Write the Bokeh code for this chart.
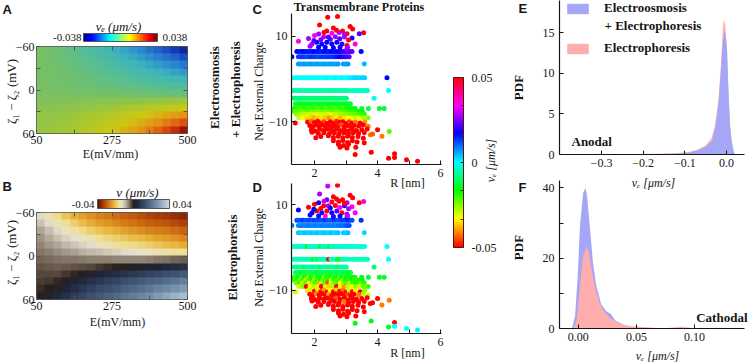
import colorsys
import numpy as np
from bokeh.plotting import figure
from bokeh.layouts import row, column
from bokeh.models import (Range1d, LinearColorMapper, ColorBar, FixedTicker, Label,
                          LinearAxis, Legend, LegendItem, ColumnDataSource, GridBox)
from bokeh.embed import file_html
from bokeh.resources import INLINE

SERIF = "Liberation Serif"
SANS = "Liberation Sans"
INK = "#161616"

# ---------------- Panels A / B : velocity over E (cell centres) and zeta difference ----------------
HEAT_E = [62.5, 87.5, 112.5, 137.5, 162.5, 187.5, 212.5, 237.5, 262.5, 287.5,
          312.5, 337.5, 362.5, 387.5, 412.5, 437.5, 462.5, 487.5]
HEAT_DZ = [-55, -45, -35, -25, -15, -5, 5, 15, 25, 35, 45, 55]
A_VE = [
    [-0.0002, -0.0011, -0.0022, -0.0036, -0.0051, -0.0067, -0.0085, -0.0104, -0.0124, -0.0144, -0.0166, -0.0189, -0.0212, -0.0236, -0.0261, -0.0286, -0.0320, -0.0355],
    [-0.0002, -0.0009, -0.0019, -0.0030, -0.0043, -0.0057, -0.0072, -0.0087, -0.0104, -0.0122, -0.0140, -0.0159, -0.0179, -0.0199, -0.0220, -0.0242, -0.0264, -0.0286],
    [-0.0002, -0.0007, -0.0015, -0.0025, -0.0035, -0.0046, -0.0058, -0.0071, -0.0085, -0.0099, -0.0114, -0.0130, -0.0146, -0.0162, -0.0180, -0.0197, -0.0215, -0.0234],
    [-0.0001, -0.0006, -0.0012, -0.0019, -0.0027, -0.0036, -0.0046, -0.0056, -0.0066, -0.0078, -0.0089, -0.0101, -0.0114, -0.0127, -0.0140, -0.0154, -0.0168, -0.0183],
    [-0.0001, -0.0004, -0.0009, -0.0014, -0.0020, -0.0027, -0.0034, -0.0041, -0.0049, -0.0057, -0.0066, -0.0075, -0.0084, -0.0094, -0.0103, -0.0114, -0.0124, -0.0135],
    [-0.0001, -0.0003, -0.0006, -0.0009, -0.0013, -0.0018, -0.0022, -0.0027, -0.0033, -0.0038, -0.0044, -0.0050, -0.0056, -0.0062, -0.0069, -0.0075, -0.0082, -0.0089],
    [0.0005, 0.0004, 0.0002, 0.0001, -0.0001, -0.0003, -0.0005, -0.0007, -0.0009, -0.0011, -0.0014, -0.0016, -0.0019, -0.0022, -0.0025, -0.0027, -0.0030, -0.0033],
    [0.0012, 0.0012, 0.0013, 0.0013, 0.0014, 0.0015, 0.0017, 0.0018, 0.0020, 0.0022, 0.0024, 0.0026, 0.0029, 0.0031, 0.0034, 0.0037, 0.0040, 0.0043],
    [0.0020, 0.0021, 0.0022, 0.0025, 0.0028, 0.0031, 0.0035, 0.0040, 0.0045, 0.0051, 0.0058, 0.0065, 0.0073, 0.0081, 0.0090, 0.0099, 0.0109, 0.0120],
    [0.0030, 0.0032, 0.0034, 0.0038, 0.0042, 0.0048, 0.0055, 0.0062, 0.0071, 0.0080, 0.0091, 0.0103, 0.0115, 0.0128, 0.0143, 0.0158, 0.0174, 0.0191],
    [0.0033, 0.0035, 0.0039, 0.0044, 0.0050, 0.0058, 0.0068, 0.0079, 0.0091, 0.0104, 0.0119, 0.0135, 0.0153, 0.0172, 0.0192, 0.0214, 0.0236, 0.0260],
    [0.0038, 0.0041, 0.0045, 0.0052, 0.0060, 0.0070, 0.0082, 0.0096, 0.0111, 0.0129, 0.0148, 0.0168, 0.0191, 0.0215, 0.0240, 0.0268, 0.0300, 0.0345],
]
B_V = [
    [-0.0125, -0.0150, -0.0173, -0.0198, -0.0220, -0.0235, -0.0248, -0.0263, -0.0275, -0.0285, -0.0295, -0.0305, -0.0315, -0.0325, -0.0333, -0.0340, -0.0350, -0.0360],
    [-0.0103, -0.0125, -0.0145, -0.0168, -0.0190, -0.0208, -0.0223, -0.0238, -0.0250, -0.0260, -0.0270, -0.0280, -0.0290, -0.0300, -0.0305, -0.0310, -0.0320, -0.0330],
    [-0.0081, -0.0100, -0.0120, -0.0138, -0.0155, -0.0173, -0.0188, -0.0203, -0.0215, -0.0225, -0.0235, -0.0245, -0.0255, -0.0265, -0.0270, -0.0275, -0.0285, -0.0295],
    [-0.0068, -0.0083, -0.0098, -0.0113, -0.0128, -0.0140, -0.0153, -0.0168, -0.0180, -0.0190, -0.0200, -0.0208, -0.0215, -0.0225, -0.0233, -0.0240, -0.0250, -0.0260],
    [-0.0059, -0.0070, -0.0080, -0.0093, -0.0105, -0.0115, -0.0125, -0.0138, -0.0150, -0.0160, -0.0170, -0.0175, -0.0180, -0.0190, -0.0200, -0.0208, -0.0215, -0.0225],
    [-0.0049, -0.0056, -0.0063, -0.0070, -0.0078, -0.0085, -0.0093, -0.0100, -0.0108, -0.0115, -0.0123, -0.0128, -0.0133, -0.0140, -0.0148, -0.0153, -0.0158, -0.0165],
    [-0.0038, -0.0043, -0.0045, -0.0048, -0.0050, -0.0053, -0.0055, -0.0055, -0.0055, -0.0058, -0.0058, -0.0058, -0.0058, -0.0055, -0.0050, -0.0045, -0.0040, -0.0035],
    [-0.0031, -0.0034, -0.0035, -0.0033, -0.0030, -0.0028, -0.0023, -0.0015, -0.0008, -0.0003, 0.0005, 0.0013, 0.0020, 0.0028, 0.0035, 0.0045, 0.0055, 0.0068],
    [-0.0025, -0.0025, -0.0023, -0.0015, -0.0005, 0.0008, 0.0020, 0.0033, 0.0045, 0.0055, 0.0068, 0.0080, 0.0090, 0.0100, 0.0110, 0.0123, 0.0135, 0.0150],
    [-0.0016, -0.0014, -0.0006, 0.0008, 0.0025, 0.0045, 0.0063, 0.0078, 0.0093, 0.0105, 0.0120, 0.0135, 0.0148, 0.0160, 0.0173, 0.0188, 0.0203, 0.0220],
    [-0.0009, 0.0001, 0.0016, 0.0035, 0.0055, 0.0075, 0.0095, 0.0113, 0.0128, 0.0143, 0.0160, 0.0175, 0.0190, 0.0208, 0.0225, 0.0243, 0.0260, 0.0280],
    [0.0003, 0.0023, 0.0045, 0.0065, 0.0085, 0.0105, 0.0125, 0.0145, 0.0163, 0.0180, 0.0200, 0.0218, 0.0235, 0.0255, 0.0275, 0.0298, 0.0320, 0.0340],
]
A_LIM = 0.038
B_LIM = 0.04
HEAT_XTICKS = [50, 275, 500]
HEAT_XMINOR = [162.5, 387.5]
HEAT_YTICKS = [-60, 0, 60]
HEAT_YMINOR = [-30, 30]

# ---------------- Panels C / D : proteins (R, net charge), velocity colour ----------------
BAND_Q = [6.4, 5.2, 3.5, 0.3, -2.7, -4.5, -5.8, -6.9, -7.6, -8.3, -9.1]
BAND_R = [
    [1.44, 1.51, 1.58, 1.65, 1.72, 1.79, 1.86, 1.93, 2.00, 2.07, 2.14, 2.21, 2.28, 2.35,
     2.42, 2.49, 2.56, 2.63, 2.70, 2.77, 2.84, 2.91, 2.98, 3.05, 3.12, 3.19, 3.48],
    [1.28, 1.49, 1.56, 1.63, 1.70, 1.77, 1.84, 1.91, 1.98, 2.05, 2.12, 2.19, 2.26,
     2.33, 2.40, 2.47, 2.54, 2.61, 2.68, 2.75, 2.82, 2.89, 2.96, 3.03, 3.10],
    [1.49, 1.56, 1.63, 1.70, 1.77, 1.84, 1.91, 1.98, 2.05, 2.12, 2.19, 2.26,
     2.33, 2.40, 2.47, 2.54, 2.61, 2.68, 2.75, 2.92, 2.99, 3.06, 3.58],
    [1.28, 1.35, 1.42, 1.49, 1.56, 1.63, 1.70, 1.77, 1.84, 1.91, 1.98, 2.05,
     2.12, 2.19, 2.26, 2.33, 2.40, 2.47, 2.54, 2.61, 2.68, 2.75, 2.82, 2.89,
     2.96, 3.03, 3.10, 3.17, 3.24, 3.31, 3.38, 3.45, 3.52, 3.59, 4.30],
    [1.33, 1.40, 1.47, 1.54, 1.61, 1.68, 1.75, 1.82, 1.89, 1.96, 2.03, 2.10,
     2.17, 2.24, 2.31, 2.38, 2.45, 2.52, 2.59, 2.66, 2.73, 2.80, 2.87, 2.94,
     3.01, 3.08, 3.19, 3.26, 3.33, 3.40, 3.47, 3.54, 3.61, 3.68, 4.35],
    [1.33, 1.40, 1.47, 1.54, 1.61, 1.68, 1.75, 1.82, 1.89, 1.96, 2.03, 2.10,
     2.17, 2.24, 2.31, 2.38, 2.45, 2.52, 2.59, 2.66, 2.73, 2.80, 2.87, 2.94,
     3.01, 3.89],
    [1.39, 1.46, 1.53, 1.60, 1.67, 1.74, 1.81, 1.88, 1.95, 2.02, 2.09, 2.16,
     2.23, 2.30, 2.37, 2.44, 2.51, 2.58, 2.65, 2.72, 2.79, 2.86, 2.93, 3.00,
     3.07, 3.14],
    [1.33, 1.40, 1.47, 1.54, 1.61, 1.68, 1.75, 1.82, 1.89, 1.96, 2.03, 2.10,
     2.17, 2.24, 2.31, 2.38, 2.45, 2.52, 2.59, 2.66, 2.73, 2.80, 2.87, 2.94,
     3.01, 3.08, 3.15, 3.22, 3.29, 3.50, 3.71, 4.06, 4.21],
    [1.36, 1.45, 1.54, 1.63, 1.72, 1.81, 1.90, 1.99, 2.08, 2.17, 2.26, 2.35,
     2.44, 2.53, 2.62, 2.71, 2.80, 2.89, 2.98, 3.07, 3.16, 3.25, 3.34, 3.43, 3.52],
    [1.42, 1.52, 1.62, 1.72, 1.82, 1.92, 2.02, 2.12, 2.22, 2.32, 2.42,
     2.52, 2.62, 2.72, 2.82, 2.92, 3.02, 3.12, 3.22, 3.32, 3.45, 3.58],
    [1.50, 1.62, 1.74, 1.86, 1.98, 2.10, 2.22, 2.34, 2.46, 2.58,
     2.70, 2.82, 2.94, 3.06, 3.18, 3.30, 3.42, 3.55, 3.70],
]
BAND_VE_C = [
    [0.017, 0.016, 0.016, 0.017, 0.016, 0.016, 0.015, 0.016, 0.017, 0.016, 0.016, 0.015, 0.016, 0.017,
     0.016, 0.016, 0.017, 0.016, 0.018, 0.017, 0.019, 0.021, 0.020, 0.022, 0.021, 0.023, 0.017],
    [0.017, 0.013, 0.013, 0.014, 0.013, 0.012, 0.013, 0.014, 0.013, 0.013, 0.012, 0.013, 0.014,
     0.013, 0.013, 0.014, 0.013, 0.014, 0.015, 0.016, 0.017, 0.018, 0.020, 0.021, 0.022],
    [0.007, 0.006, 0.006, 0.007, 0.006, 0.006, 0.007, 0.006, 0.006, 0.007, 0.006, 0.006,
     0.007, 0.006, 0.006, 0.007, 0.006, 0.006, 0.007, 0.007, 0.006, 0.007, 0.005],
    [0.000, 0.000, -0.001, 0.000, 0.000, 0.000, -0.001, 0.000, 0.000, 0.000, 0.000, -0.001,
     0.000, 0.000, 0.000, 0.000, 0.001, 0.000, 0.000, 0.000, 0.001, 0.000, 0.000, 0.001,
     0.000, 0.000, 0.001, 0.001, 0.002, 0.002, 0.003, 0.002, 0.003, 0.003, 0.017],
    [-0.006, -0.006, -0.005, -0.006, -0.006, -0.005, -0.006, -0.006, -0.005, -0.006, -0.006, -0.005,
     -0.006, -0.006, -0.005, -0.006, -0.006, -0.005, -0.006, -0.006, -0.005, -0.006, -0.005, -0.005,
     -0.006, -0.005, -0.004, -0.005, -0.004, -0.005, -0.004, -0.004, -0.004, -0.003, 0.000],
    [-0.009, -0.009, -0.008, -0.009, -0.009, -0.008, -0.009, -0.009, -0.008, -0.009, -0.009, -0.008,
     -0.009, -0.009, -0.008, -0.009, -0.009, -0.008, -0.009, -0.009, -0.008, -0.009, -0.008, -0.008,
     -0.008, -0.001],
    [-0.014, -0.013, -0.014, -0.015, -0.014, -0.013, -0.014, -0.015, -0.014, -0.013, -0.014, -0.015,
     -0.014, -0.013, -0.014, -0.015, -0.014, -0.013, -0.014, -0.015, -0.014, -0.013, -0.014, -0.015,
     -0.014, -0.013],
    [-0.020, -0.018, -0.019, -0.021, -0.020, -0.018, -0.019, -0.021, -0.020, -0.018, -0.019, -0.021,
     -0.020, -0.018, -0.019, -0.021, -0.020, -0.018, -0.019, -0.021, -0.020, -0.018, -0.019, -0.021,
     -0.018, -0.016, -0.017, -0.016, -0.015, -0.013, -0.012, -0.014, -0.013],
    [-0.021, -0.023, -0.022, -0.024, -0.023, -0.022, -0.024, -0.023, -0.025, -0.024, -0.023, -0.025,
     -0.024, -0.023, -0.022, -0.024, -0.023, -0.022, -0.021, -0.020, -0.019, -0.020, -0.018, -0.017, -0.016],
    [-0.026, -0.027, -0.028, -0.029, -0.030, -0.029, -0.030, -0.031, -0.030, -0.029, -0.030,
     -0.031, -0.029, -0.028, -0.027, -0.026, -0.025, -0.024, -0.023, -0.022, -0.020, -0.019],
    [-0.030, -0.033, -0.035, -0.036, -0.038, -0.036, -0.035, -0.037, -0.040, -0.036,
     -0.034, -0.038, -0.035, -0.033, -0.034, -0.030, -0.032, -0.028, -0.025],
]
BAND_VE_D = [
    [0.012, 0.011, 0.012, 0.013, 0.011, 0.012, 0.012, 0.011, 0.013, 0.012, 0.012, 0.011, 0.012, 0.013,
     0.012, 0.011, 0.012, 0.013, 0.012, 0.011, 0.012, 0.013, 0.012, 0.014, 0.013, 0.012, 0.014],
    [0.009, 0.008, 0.008, 0.009, 0.008, 0.008, 0.009, 0.008, 0.008, 0.009, 0.008, 0.008, 0.009,
     0.008, 0.008, 0.009, 0.008, 0.009, 0.008, 0.009, 0.010, 0.009, 0.010, 0.011, 0.012],
    [0.004, 0.003, 0.003, 0.004, 0.003, 0.003, 0.004, 0.003, 0.003, 0.004, 0.003, 0.003,
     0.004, 0.003, 0.003, 0.004, 0.003, 0.003, 0.004, 0.004, 0.003, 0.004, 0.003],
    [-0.003, -0.003, -0.004, -0.003, -0.003, -0.003, -0.004, -0.015, -0.003, -0.003, -0.004, -0.003,
     -0.003, -0.015, -0.003, -0.004, -0.003, -0.014, -0.003, -0.003, -0.004, -0.003, -0.003, -0.003,
     -0.004, -0.003, -0.003, -0.002, -0.003, -0.002, -0.003, -0.002, -0.002, -0.002, 0.000],
    [-0.004, -0.004, -0.005, -0.004, -0.004, -0.005, -0.004, -0.004, -0.005, -0.015, -0.004, -0.014,
     -0.004, -0.004, -0.005, -0.004, -0.050, -0.004, -0.005, -0.004, -0.015, -0.014, -0.004, -0.005,
     -0.004, -0.004, -0.005, -0.004, -0.004, -0.005, -0.004, -0.004, -0.005, -0.004, 0.000],
    [-0.005, -0.006, -0.008, -0.005, -0.006, -0.012, -0.005, -0.006, -0.005, -0.008, -0.006, -0.005,
     -0.012, -0.006, -0.005, -0.006, -0.008, -0.005, -0.006, -0.005, -0.012, -0.006, -0.005, -0.006,
     -0.005, -0.008],
    [-0.008, -0.012, -0.010, -0.015, -0.009, -0.012, -0.020, -0.010, -0.012, -0.009, -0.015, -0.011,
     -0.010, -0.013, -0.009, -0.018, -0.011, -0.010, -0.012, -0.014, -0.010, -0.009, -0.013, -0.011,
     -0.016, -0.012],
    [-0.018, -0.022, -0.015, -0.020, -0.025, -0.017, -0.019, -0.028, -0.016, -0.020, -0.023, -0.017,
     -0.019, -0.015, -0.026, -0.018, -0.020, -0.016, -0.022, -0.018, -0.017, -0.024, -0.016, -0.019,
     -0.017, -0.015, -0.018, -0.016, -0.015, -0.014, -0.013, -0.015, -0.014],
    [-0.020, -0.016, -0.025, -0.018, -0.030, -0.020, -0.017, -0.027, -0.019, -0.016, -0.024, -0.020,
     -0.018, -0.028, -0.017, -0.021, -0.019, -0.025, -0.017, -0.020, -0.016, -0.018, -0.022, -0.017, -0.016],
    [-0.025, -0.020, -0.030, -0.022, -0.034, -0.026, -0.020, -0.038, -0.028, -0.022, -0.045,
     -0.030, -0.024, -0.020, -0.033, -0.025, -0.021, -0.028, -0.020, -0.018, -0.022, -0.019],
    [-0.030, -0.025, -0.050, -0.033, -0.028, -0.034, -0.050, -0.030, -0.036, -0.027,
     -0.050, -0.032, -0.040, -0.029, -0.033, -0.026, -0.030, -0.024, -0.020],
]
# (R [nm], net charge, v_e with electroosmosis, v_e electrophoresis only)
LOWER_PTS = [
    (1.39, -10.3, -0.05, -0.03), (1.78, -10.1, -0.05, -0.034), (1.90, -9.9, -0.042, -0.03),
    (2.00, -10.2, -0.05, -0.05), (2.10, -9.9, -0.05, -0.035), (2.20, -10.3, -0.05, -0.05),
    (2.30, -10.0, -0.045, -0.04), (2.40, -10.4, -0.05, -0.05), (2.50, -10.0, -0.05, -0.033),
    (2.60, -10.3, -0.05, -0.05), (2.70, -9.9, -0.048, -0.036), (2.80, -10.2, -0.05, -0.05),
    (2.90, -10.0, -0.05, -0.042), (3.00, -10.4, -0.05, -0.05), (3.10, -10.0, -0.046, -0.03),
    (3.20, -10.3, -0.05, -0.05), (3.30, -10.1, -0.042, -0.034), (3.45, -10.3, -0.05, -0.05),
    (3.60, -10.0, -0.04, -0.026), (1.85, -10.9, -0.05, -0.05), (1.95, -11.2, -0.05, -0.05),
    (2.05, -10.8, -0.05, -0.042), (2.15, -11.1, -0.05, -0.05), (2.25, -10.8, -0.05, -0.05),
    (2.35, -11.2, -0.05, -0.05), (2.45, -10.9, -0.05, -0.038), (2.55, -11.2, -0.05, -0.05),
    (2.65, -10.8, -0.05, -0.05), (2.75, -11.1, -0.05, -0.05), (2.85, -10.8, -0.044, -0.05),
    (2.95, -11.2, -0.05, -0.05), (3.05, -10.9, -0.05, -0.045), (3.15, -11.2, -0.05, -0.05),
    (3.25, -10.9, -0.05, -0.05), (3.40, -11.0, -0.05, -0.042), (3.55, -10.8, -0.05, -0.028),
    (3.70, -11.1, -0.042, -0.03), (1.90, -11.9, -0.05, -0.05), (2.03, -12.2, -0.05, -0.05),
    (2.16, -11.8, -0.05, -0.05), (2.29, -12.1, -0.05, -0.05), (2.42, -11.8, -0.05, -0.05),
    (2.55, -12.2, -0.05, -0.05), (2.68, -11.8, -0.05, -0.044), (2.81, -12.1, -0.05, -0.05),
    (2.94, -11.8, -0.05, -0.05), (3.07, -12.2, -0.05, -0.05), (3.20, -11.8, -0.05, -0.05),
    (3.33, -12.1, -0.05, -0.05), (3.50, -11.9, -0.05, -0.05), (3.67, -11.7, -0.05, -0.05),
    (4.00, -11.9, -0.05, -0.05), (1.92, -12.5, -0.05, -0.05), (2.12, -12.8, -0.05, -0.05),
    (2.30, -12.6, -0.05, -0.05), (2.47, -12.9, -0.05, -0.05), (2.63, -12.6, -0.05, -0.05),
    (2.78, -12.9, -0.05, -0.05), (2.93, -12.6, -0.05, -0.042), (3.08, -12.9, -0.05, -0.05),
    (3.23, -12.6, -0.05, -0.05), (3.40, -12.8, -0.05, -0.05), (3.58, -12.6, -0.05, -0.05),
    (3.77, -13.05, -0.042, -0.05), (3.84, -12.9, -0.044, -0.05), (4.14, -13.4, -0.042, -0.042),
    (4.37, -12.3, -0.022, -0.042), (2.04, -13.8, -0.05, -0.05), (2.20, -13.5, -0.05, -0.05),
    (2.44, -13.3, -0.05, -0.05), (2.60, -13.7, -0.05, -0.05), (2.75, -13.4, -0.05, -0.05),
    (2.90, -13.8, -0.05, -0.05), (3.05, -13.4, -0.05, -0.05), (3.20, -13.7, -0.05, -0.05),
    (3.38, -13.5, -0.05, -0.05), (3.55, -13.9, -0.05, -0.05), (2.60, -14.5, -0.05, -0.05),
    (2.76, -14.8, -0.05, -0.05), (2.90, -14.4, -0.05, -0.05), (3.05, -14.9, -0.05, -0.05),
    (3.20, -14.5, -0.05, -0.05), (3.35, -14.8, -0.05, -0.05), (2.76, -15.3, -0.05, -0.05),
    (2.92, -15.6, -0.05, -0.05), (3.08, -15.3, -0.05, -0.05), (3.58, -15.0, -0.05, -0.05),
    (2.81, -16.0, -0.05, -0.05), (3.03, -16.2, -0.05, -0.05), (3.31, -16.0, -0.05, -0.05),
    (3.29, -17.7, -0.05, -0.015), (3.80, -17.2, -0.05, -0.015), (4.35, -18.6, -0.05, -0.014),
    (4.54, -17.5, -0.05, -0.05), (4.54, -18.4, -0.05, 0.0), (4.92, -18.9, -0.05, 0.0),
    (5.27, -19.3, -0.05, 0.001),
]
UPPER_PTS = [
    (2.42, 14.45, 0.05, 0.03), (2.73, 14.6, 0.05, 0.05), (2.16, 12.6, 0.05, 0.028),
    (2.60, 11.95, 0.05, 0.05), (3.13, 12.3, 0.05, 0.05), (3.21, 11.7, 0.05, 0.05),
    (3.03, 10.55, 0.05, 0.028), (3.56, 10.8, 0.05, 0.035), (3.42, 10.55, 0.022, 0.05),
    (2.39, 11.2, 0.05, 0.024), (2.55, 10.7, 0.035, 0.05), (2.89, 11.2, 0.05, 0.05),
    (2.78, 10.9, 0.028, 0.05), (2.00, 10.15, 0.033, 0.05), (2.13, 10.5, 0.028, 0.018),
    (1.81, 9.45, 0.028, 0.05), (1.49, 8.8, 0.035, 0.017), (2.29, 9.8, 0.028, 0.05),
    (2.44, 9.8, 0.022, 0.028), (2.66, 9.9, 0.028, 0.05), (2.95, 9.8, 0.028, 0.02),
    (3.19, 9.6, 0.018, 0.035), (3.08, 9.1, 0.05, 0.028), (3.29, 8.2, 0.035, 0.033),
    (1.92, 8.2, 0.028, 0.017), (2.07, 8.6, 0.017, 0.05), (2.23, 8.2, 0.017, 0.016),
    (2.39, 8.6, 0.017, 0.05), (2.55, 8.2, 0.017, 0.018), (2.71, 8.6, 0.017, 0.022),
    (2.87, 8.2, 0.02, 0.05), (3.03, 7.8, 0.05, 0.025), (1.86, 7.65, 0.028, 0.018),
    (2.13, 7.4, 0.017, 0.016), (2.34, 7.4, 0.017, 0.035), (2.60, 7.3, 0.017, 0.018),
    (2.81, 7.4, 0.017, 0.017), (3.03, 7.0, 0.025, 0.016), (3.05, 7.4, 0.028, 0.03),
    (2.30, 10.9, 0.05, 0.03), (2.70, 11.4, 0.05, 0.05), (2.95, 10.4, 0.028, 0.05),
    (2.20, 9.2, 0.025, 0.05), (2.50, 9.3, 0.022, 0.017), (2.80, 9.4, 0.022, 0.033),
    (1.98, 9.0, 0.022, 0.017),
]
VE_LIM = 0.05
CB_TICKS = [-0.05, 0, 0.05]
CB_MINOR = [-0.0333, -0.0167, 0.0167, 0.0333]

# ---------------- Panels E / F : PDFs of v_e ----------------
E_X_EO = [-0.400, -0.300, -0.200, -0.120, -0.090, -0.070, -0.050, -0.0344, -0.0264, -0.0184, -0.0128,
          -0.0085, -0.0048, -0.002, 0.0016, 0.0056, 0.0090, 0.0120, 0.0176, 0.0200, 0.0430]
E_PDF_EO = [0.00, 0.02, 0.04, 0.10, 0.25, 0.50, 0.95, 1.70, 3.40, 6.70, 10.80,
            14.00, 15.20, 14.80, 12.80, 6.70, 3.20, 1.70, 0.30, 0.00, 0.00]
E_X_EP = [-0.400, -0.300, -0.200, -0.120, -0.090, -0.070, -0.050, -0.036, -0.028, -0.020, -0.014,
          -0.0095, -0.0064, -0.003, 0.000, 0.004, 0.008, 0.012, 0.016, 0.020, 0.043]
E_PDF_EP = [0.00, 0.03, 0.06, 0.14, 0.30, 0.60, 1.10, 2.00, 3.50, 6.40, 10.50,
            14.80, 16.70, 16.00, 13.50, 8.30, 4.00, 1.90, 0.50, 0.00, 0.00]
F_X_EO = [-0.0162, -0.0055, -0.0028, -0.0005, 0.0014, 0.0042, 0.0062, 0.0075, 0.0098, 0.0126,
          0.0154, 0.0196, 0.0238, 0.0280, 0.0320, 0.0390, 0.0475, 0.0600, 0.0800, 0.1420]
F_PDF_EO = [0.0, 0.0, 3.6, 15.0, 29.3, 38.7, 39.9, 37.8, 29.3, 18.8,
            12.2, 7.0, 5.0, 4.1, 2.2, 1.1, 0.4, 0.15, 0.05, 0.0]
F_X_EP = [-0.0162, -0.0040, -0.0013, 0.0014, 0.0042, 0.0070, 0.0090, 0.0112, 0.0140, 0.0180, 0.0224,
          0.0280, 0.0335, 0.0420, 0.0530, 0.0640, 0.0750, 0.0880, 0.1000, 0.1200, 0.1420]
F_PDF_EP = [0.0, 0.0, 2.5, 12.2, 20.7, 23.1, 22.1, 17.4, 12.2, 7.4, 4.6,
            2.8, 1.7, 0.7, 0.5, 0.2, 0.1, 0.5, 0.1, 0.2, 0.0]
BLUE_FILL = "#a6a6f7"
RED_FILL = "#ffadad"


# ---------------- helpers ----------------
def ramp(stops, lo, hi, n=256):
    st = [((v - lo) / (hi - lo), c) for v, c in stops]
    out = []
    for i in range(n):
        t = i / (n - 1)
        for (p0, c0), (p1, c1) in zip(st, st[1:]):
            if t <= p1 + 1e-9:
                f = 0.0 if p1 == p0 else max(0.0, min(1.0, (t - p0) / (p1 - p0)))
                out.append("#%02x%02x%02x" % tuple(int(round(a + (b - a) * f)) for a, b in zip(c0, c1)))
                break
    return out


JET = ramp([(-0.038, (0, 0, 140)), (-0.0296, (0, 0, 255)), (-0.0106, (0, 255, 255)),
            (0.0, (128, 255, 128)), (0.0095, (255, 255, 0)), (0.0285, (255, 0, 0)),
            (0.038, (128, 0, 0))], -0.038, 0.038)
A_FIELD = ramp([(-0.038, (15, 25, 140)), (-0.030, (25, 70, 195)), (-0.022, (40, 130, 210)),
                (-0.014, (60, 180, 190)), (-0.007, (85, 190, 150)), (0.0, (120, 192, 100)),
                (0.006, (170, 200, 45)), (0.012, (205, 200, 20)), (0.020, (230, 140, 20)),
                (0.028, (215, 60, 15)), (0.038, (125, 0, 0))], -0.038, 0.038)
B_PAL = ramp([(-0.040, (95, 15, 0)), (-0.034, (165, 55, 5)), (-0.028, (210, 115, 20)),
              (-0.022, (232, 178, 55)), (-0.017, (240, 222, 140)), (-0.013, (232, 226, 205)),
              (-0.009, (190, 182, 168)), (-0.005, (135, 120, 105)), (-0.002, (80, 65, 55)),
              (0.0, (40, 30, 28)), (0.004, (30, 38, 58)), (0.010, (50, 66, 95)),
              (0.018, (80, 105, 135)), (0.028, (130, 155, 180)), (0.040, (205, 222, 235))],
             -0.04, 0.04)
HSV = ["#%02x%02x%02x" % tuple(int(round(255 * c)) for c in colorsys.hsv_to_rgb(i / 256.0, 1, 1))
       for i in range(256)]

W, H = 750, 362


def base_fig(w, h, xr, yr, bl, br, bt, bb, axes=True):
    kw = dict(width=w, height=h, x_range=xr, y_range=yr, output_backend="svg",
              toolbar_location=None, tools="", min_border_left=bl, min_border_right=br,
              min_border_top=bt, min_border_bottom=bb)
    if not axes:
        kw.update(x_axis_type=None, y_axis_type=None)
    p = figure(**kw)
    p.title.visible = False
    p.grid.visible = False
    p.outline_line_color = None
    p.background_fill_color = "white"
    p.border_fill_color = "white"
    return p


def style_axis(ax, ticks, minor=None, overrides=None, size=12, standoff=4, color=INK, line=True):
    ax.ticker = FixedTicker(ticks=ticks, minor_ticks=minor or [])
    if overrides:
        ax.major_label_overrides = overrides
    ax.major_tick_in = 4
    ax.major_tick_out = 0
    ax.minor_tick_in = 4
    ax.minor_tick_out = 0
    ax.minor_tick_line_color = color if minor else None
    ax.major_tick_line_color = color
    ax.axis_line_color = color if line else None
    ax.axis_line_width = 1.2
    ax.major_label_text_font = SERIF
    ax.major_label_text_font_size = "%dpx" % size
    ax.major_label_text_color = INK
    ax.major_label_standoff = standoff


def heat_panel(p, values, field_pal, lim):
    mapper = LinearColorMapper(palette=field_pal, low=-lim, high=lim)
    cw = HEAT_E[1] - HEAT_E[0]
    ch = HEAT_DZ[1] - HEAT_DZ[0]
    x0 = HEAT_E[0] - cw / 2
    dz0 = HEAT_DZ[0] - ch / 2
    # the visible axis runs -60 (top) .. 60 (bottom); the grid is drawn on an upright
    # copy of that range, so the row order is reversed to keep each row in place.
    p.extra_y_ranges = {"grid": Range1d(dz0, -dz0)}
    grid = np.array(values[::-1], dtype=float)
    p.image(image=[grid], x=x0, y=dz0, dw=cw * len(HEAT_E), dh=ch * len(HEAT_DZ),
            color_mapper=mapper, y_range_name="grid")
    p.outline_line_color = "#555555"
    p.outline_line_width = 1
    style_axis(p.xaxis[0], HEAT_XTICKS, HEAT_XMINOR, size=12, standoff=2, color="#555555", line=False)
    style_axis(p.yaxis[0], HEAT_YTICKS, HEAT_YMINOR, size=12, standoff=2, color="#555555", line=False)
    top = LinearAxis()
    style_axis(top, [], HEAT_XTICKS + HEAT_XMINOR, color="#555555", line=False, standoff=0)
    p.add_layout(top, "above")
    right = LinearAxis()
    style_axis(right, [], HEAT_YTICKS + HEAT_YMINOR, color="#555555", line=False, standoff=0)
    p.add_layout(right, "right")


# ---------------- Panel A / B ----------------
pA = base_fig(205, 175, Range1d(50, 500), Range1d(60, -60), 33, 18, 46, 42)
heat_panel(pA, A_VE, A_FIELD, A_LIM)
pB = base_fig(205, 187, Range1d(50, 500), Range1d(60, -60), 36, 14, 37, 63)
heat_panel(pB, B_V, B_PAL, B_LIM)

# ---------------- Panels C / D ----------------
rr, qq, vc, vd = [], [], [], []
for q, rs, cs, ds in zip(BAND_Q, BAND_R, BAND_VE_C, BAND_VE_D):
    for r, c, d in zip(rs, cs, ds):
        rr.append(r); qq.append(q); vc.append(c); vd.append(d)
for r, q, c, d in LOWER_PTS + UPPER_PTS:
    rr.append(r); qq.append(q); vc.append(c); vd.append(d)
prot = ColumnDataSource(dict(r=rr, q=qq, vc=vc, vd=vd))
ve_mapper = LinearColorMapper(palette=HSV, low=-VE_LIM, high=VE_LIM)

pC = base_fig(305, 182, Range1d(1.27, 6.03), Range1d(-20.04, 15.32), 86, 69, 13, 18)
pC.scatter("r", "q", source=prot, size=5, line_color=None,
           fill_color={"field": "vc", "transform": ve_mapper})
style_axis(pC.xaxis[0], [2, 4, 6], [3, 5], size=12, standoff=4)
style_axis(pC.yaxis[0], [-10, 10], size=12, standoff=4)

pD = base_fig(305, 180, Range1d(1.27, 6.03), Range1d(-20.1, 15.03), 86, 69, 1, 29)
pD.scatter("r", "q", source=prot, size=5, line_color=None,
           fill_color={"field": "vd", "transform": ve_mapper})
style_axis(pD.xaxis[0], [2, 4, 6], [3, 5], size=12, standoff=4)
style_axis(pD.yaxis[0], [-10, 10], size=12, standoff=4)

# ---------------- Panel E ----------------
pE = base_fig(240, 177, Range1d(-0.4008, 0.0432), Range1d(0, 19.0), 49, 6, 0, 23)
rE_ep = pE.varea(x="x", y1=0, y2="y", source=ColumnDataSource(dict(x=E_X_EP, y=E_PDF_EP)),
                 fill_color=RED_FILL)
rE_eo = pE.varea(x="x", y1=0, y2="y", source=ColumnDataSource(dict(x=E_X_EO, y=E_PDF_EO)),
                 fill_color=BLUE_FILL)
style_axis(pE.xaxis[0], [-0.3, -0.2, -0.1, 0.0], None,
           {-0.3: "−0.3", -0.2: "−0.2", -0.1: "−0.1", 0: "0.0"}, size=12, standoff=4)
style_axis(pE.yaxis[0], [0, 5, 10, 15], size=12, standoff=5)
leg = Legend(items=[LegendItem(label="Electroosmosis", renderers=[rE_eo]),
                    LegendItem(label="Electrophoresis", renderers=[rE_ep])],
             location=(5, 98), padding=0, margin=0, spacing=24, glyph_width=27,
             glyph_height=13, label_height=13, label_standoff=13,
             label_text_font=SERIF, label_text_font_style="bold", label_text_font_size="13px",
             label_text_color=INK, background_fill_alpha=0, border_line_color=None)
pE.add_layout(leg, "center")

# ---------------- Panel F ----------------
pF = base_fig(240, 185, Range1d(-0.0162, 0.1429), Range1d(0, 42.1), 49, 1, 3, 34)
pF.varea(x="x", y1=0, y2="y", source=ColumnDataSource(dict(x=F_X_EO, y=F_PDF_EO)),
         fill_color=BLUE_FILL)
pF.varea(x="x", y1=0, y2="y", source=ColumnDataSource(dict(x=F_X_EP, y=F_PDF_EP)),
         fill_color=RED_FILL)
style_axis(pF.xaxis[0], [0, 0.05, 0.1], None, {0: "0.00", 0.05: "0.05", 0.1: "0.10"}, size=12, standoff=4)
style_axis(pF.yaxis[0], [0, 20, 40], [10, 30], size=12, standoff=5)

# ---------------- transparent overlay carrying titles, letters and colour bars ----------------
ov = figure(width=W, height=H, x_range=Range1d(0, W), y_range=Range1d(H, 0), output_backend="svg",
            toolbar_location=None, tools="", min_border=0, x_axis_type=None, y_axis_type=None)
ov.title.visible = False
ov.grid.visible = False
ov.outline_line_color = None
ov.background_fill_color = None
ov.border_fill_color = None
ov.background_fill_alpha = 0
ov.border_fill_alpha = 0


def txt(x, y, text, size, font=SERIF, style="normal", align="center", angle=0):
    ov.add_layout(Label(x=x, y=y, text=text, text_font=font, text_font_size="%spx" % size,
                        text_font_style=style, text_align=align, text_baseline="middle",
                        angle=angle, angle_units="deg", text_color=INK))


def hbar(pal, lim, x, y_bottom, w, h):
    # plain bar: no ticks or labels, so its box is exactly the bar
    ov.add_layout(ColorBar(color_mapper=LinearColorMapper(palette=pal, low=-lim, high=lim),
                           orientation="horizontal", width=w, height=h, location=(x, H - y_bottom),
                           padding=0, ticker=FixedTicker(ticks=[]), major_tick_line_color=None,
                           major_tick_in=0, major_tick_out=0, label_standoff=0,
                           major_label_text_font_size="0px",
                           bar_line_color="#555555", border_line_color=None,
                           background_fill_alpha=0), "center")


# A
txt(2, 9, "A", 13, SANS, "bold", "left")
txt(118, 26, "vₑ (μm/s)", 13, style="italic")
hbar(JET, A_LIM, 83, 41, 74, 8)
txt(81, 37, "-0.038", 11, align="right")
txt(162, 37, "0.038", 11, align="left")
txt(110, 153, "E(mV/mm)", 12)
txt(11, 91, "ζ₁ − ζ₂ (mV)", 13, angle=90)
# B
txt(2, 186, "B", 13, SANS, "bold", "left")
txt(137, 192, "v (μm/s)", 13, style="italic")
hbar(B_PAL, B_LIM, 97, 208, 72, 9)
txt(94, 203.5, "-0.04", 11, align="right")
txt(172, 203.5, "0.04", 11, align="left")
txt(117, 321, "E(mV/mm)", 12)
txt(11, 252, "ζ₁ − ζ₂ (mV)", 13, angle=90)
# C
txt(252, 9, "C", 13, SANS, "bold", "left")
txt(360, 6, "Transmembrane  Proteins", 12, style="bold")
txt(214, 87, "Electroosmosis", 13, style="bold", angle=90)
txt(235, 89, "+ Electrophoresis", 13, style="bold", angle=90)
txt(258, 91, "Net External Charge", 12, angle=90)
txt(407, 182, "R [nm]", 12)
# D
txt(252, 187, "D", 13, SANS, "bold", "left")
txt(232, 257, "Electrophoresis", 13, style="bold", angle=90)
txt(258, 257, "Net External Charge", 12, angle=90)
txt(407, 352, "R [nm]", 12)
# shared colour bar of C / D
ov.add_layout(ColorBar(color_mapper=ve_mapper, orientation="vertical", width=10, height=170,
                       location=(453, H - 247), padding=0,
                       ticker=FixedTicker(ticks=CB_TICKS, minor_ticks=CB_MINOR),
                       major_label_overrides={-0.05: "-0.05", 0: "0", 0.05: "0.05"},
                       major_label_text_font=SERIF, major_label_text_font_size="12px",
                       major_label_text_color=INK, label_standoff=8, major_tick_in=3,
                       major_tick_out=0, major_tick_line_color="#333333", minor_tick_in=3,
                       minor_tick_out=0, minor_tick_line_color="#333333",
                       bar_line_color="#5a1010", border_line_color=None,
                       background_fill_alpha=0), "center")
txt(490, 160, "vₑ [μm/s]", 12, style="italic", angle=90)
# E
txt(518, 8, "E", 13, SANS, "bold", "left")
txt(604, 25, "+ Electrophoresis", 13, style="bold", align="left")
txt(518, 87, "PDF", 13, style="bold", angle=90)
txt(571, 141, "Anodal", 13, style="bold", align="left")
txt(653, 182, "vₑ [μm/s]", 12, style="italic")
# F
txt(518, 187, "F", 13, SANS, "bold", "left")
txt(518, 247, "PDF", 13, style="bold", angle=90)
txt(747, 317, "Cathodal", 13, style="bold", align="right")
txt(657, 355, "vₑ [μm/s]", 12, style="italic")

main = row(column(pA, pB), column(pC, pD), column(pE, pF))
page = GridBox(children=[(main, 0, 0), (ov, 0, 0)])
open("out.html", "w").write(file_html(page, INLINE, "Electroosmosis and electrophoresis"))
